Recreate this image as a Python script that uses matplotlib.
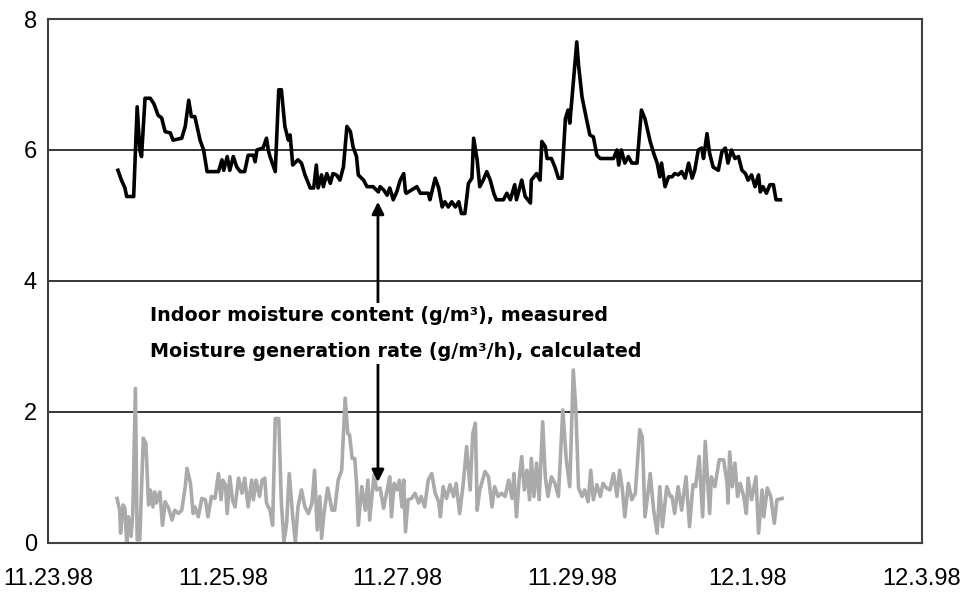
import matplotlib
matplotlib.use("Agg")
import matplotlib.pyplot as plt

# czas w dniach od 11.23.98
t_moist = [0.80, 0.84, 0.88, 0.90, 0.98, 1.02, 1.05, 1.07, 1.11, 1.17, 1.21, 1.26, 1.30, 1.34,
           1.40, 1.43, 1.53, 1.57, 1.61, 1.64, 1.68, 1.74, 1.78, 1.82, 1.95, 1.99, 2.01, 2.05,
           2.08, 2.12, 2.16, 2.20, 2.25, 2.29, 2.35, 2.37, 2.39, 2.46, 2.50, 2.52, 2.54, 2.60,
           2.64, 2.67, 2.71, 2.75, 2.77, 2.80, 2.86, 2.90, 2.94, 3.00, 3.04, 3.07, 3.09, 3.13,
           3.15, 3.19, 3.23, 3.26, 3.30, 3.34, 3.38, 3.42, 3.46, 3.49, 3.53, 3.55, 3.61, 3.65,
           3.72, 3.78, 3.80, 3.84, 3.88, 3.91, 3.95, 3.99, 4.03, 4.07, 4.09, 4.10, 4.22, 4.26,
           4.35, 4.37, 4.43, 4.47, 4.51, 4.54, 4.58, 4.62, 4.66, 4.70, 4.73, 4.77, 4.81, 4.85,
           4.87, 4.91, 4.94, 4.98, 5.02, 5.06, 5.10, 5.13, 5.21, 5.25, 5.29, 5.34, 5.36, 5.42,
           5.46, 5.52, 5.53, 5.59, 5.63, 5.65, 5.69, 5.71, 5.76, 5.80, 5.84, 5.88, 5.92, 5.95,
           5.97, 5.99, 6.05, 6.07, 6.11, 6.16, 6.20, 6.24, 6.28, 6.32, 6.47, 6.51, 6.53, 6.56,
           6.60, 6.64, 6.68, 6.74, 6.79, 6.83, 6.89, 6.93, 6.97, 7.00, 7.02, 7.06, 7.10, 7.14,
           7.17, 7.21, 7.25, 7.29, 7.33, 7.37, 7.40, 7.44, 7.48, 7.50, 7.54, 7.57, 7.61, 7.67,
           7.71, 7.75, 7.78, 7.82, 7.86, 7.90, 7.94, 7.98, 8.01, 8.05, 8.09, 8.13, 8.15, 8.18,
           8.22, 8.26, 8.30, 8.33, 8.38]
moisture = [5.69, 5.54, 5.42, 5.29, 5.29, 6.66, 6.00, 5.90, 6.79, 6.79, 6.71, 6.53, 6.49, 6.28,
            6.26, 6.15, 6.18, 6.36, 6.76, 6.51, 6.51, 6.15, 6.00, 5.67, 5.67, 5.85, 5.69, 5.90,
            5.69, 5.90, 5.74, 5.67, 5.67, 5.92, 5.92, 5.82, 6.00, 6.03, 6.18, 6.00, 5.90, 5.67,
            6.92, 6.92, 6.36, 6.15, 6.23, 5.77, 5.85, 5.80, 5.62, 5.42, 5.42, 5.77, 5.42, 5.62,
            5.44, 5.64, 5.49, 5.64, 5.62, 5.54, 5.74, 6.36, 6.28, 6.05, 5.90, 5.62, 5.54, 5.44,
            5.44, 5.36, 5.44, 5.39, 5.31, 5.42, 5.24, 5.36, 5.54, 5.64, 5.36, 5.34, 5.44, 5.34,
            5.34, 5.24, 5.57, 5.42, 5.13, 5.21, 5.13, 5.21, 5.13, 5.21, 5.03, 5.03, 5.49, 5.57,
            6.18, 5.85, 5.44, 5.54, 5.67, 5.54, 5.34, 5.24, 5.24, 5.34, 5.24, 5.47, 5.24, 5.54,
            5.29, 5.19, 5.54, 5.64, 5.54, 6.13, 6.05, 5.87, 5.87, 5.74, 5.57, 5.57, 6.48, 6.61,
            6.41, 6.71, 7.65, 7.30, 6.81, 6.48, 6.23, 6.20, 5.92, 5.87, 5.87, 6.00, 5.77, 6.00,
            5.80, 5.90, 5.80, 5.80, 6.61, 6.48, 6.13, 5.95, 5.80, 5.59, 5.80, 5.44, 5.59, 5.59,
            5.64, 5.62, 5.67, 5.57, 5.80, 5.57, 5.69, 6.00, 6.03, 5.87, 6.25, 5.95, 5.74, 5.69,
            5.97, 6.03, 5.80, 6.00, 5.87, 5.90, 5.69, 5.64, 5.54, 5.62, 5.44, 5.62, 5.36, 5.44,
            5.34, 5.47, 5.47, 5.24, 5.24]

t_gen = [0.79, 0.82, 0.83, 0.86, 0.88, 0.90, 0.92, 0.95, 0.97, 1.00, 1.02, 1.05, 1.09, 1.12,
         1.15, 1.17, 1.20, 1.22, 1.24, 1.28, 1.31, 1.34, 1.38, 1.42, 1.45, 1.49, 1.53, 1.57,
         1.59, 1.63, 1.66, 1.68, 1.72, 1.76, 1.80, 1.83, 1.87, 1.91, 1.95, 1.98, 2.00, 2.03,
         2.05, 2.08, 2.11, 2.14, 2.18, 2.22, 2.25, 2.29, 2.33, 2.35, 2.38, 2.42, 2.45, 2.48,
         2.50, 2.54, 2.57, 2.60, 2.64, 2.67, 2.70, 2.73, 2.76, 2.80, 2.83, 2.86, 2.90, 2.94,
         2.98, 3.02, 3.05, 3.08, 3.11, 3.13, 3.16, 3.20, 3.25, 3.28, 3.32, 3.36, 3.40, 3.43,
         3.45, 3.48, 3.51, 3.53, 3.55, 3.59, 3.63, 3.66, 3.68, 3.73, 3.76, 3.80, 3.84, 3.88,
         3.91, 3.93, 3.96, 3.99, 4.02, 4.05, 4.07, 4.09, 4.12, 4.16, 4.20, 4.24, 4.27, 4.31,
         4.35, 4.39, 4.43, 4.47, 4.49, 4.52, 4.56, 4.60, 4.64, 4.67, 4.71, 4.75, 4.79, 4.83,
         4.86, 4.89, 4.91, 4.94, 5.00, 5.04, 5.08, 5.11, 5.15, 5.19, 5.23, 5.27, 5.31, 5.33,
         5.36, 5.39, 5.42, 5.45, 5.48, 5.51, 5.53, 5.56, 5.59, 5.62, 5.66, 5.69, 5.72, 5.76,
         5.80, 5.84, 5.89, 5.93, 5.97, 6.01, 6.04, 6.07, 6.11, 6.14, 6.18, 6.21, 6.24, 6.28,
         6.32, 6.35, 6.39, 6.43, 6.47, 6.51, 6.54, 6.57, 6.60, 6.64, 6.68, 6.72, 6.77, 6.80,
         6.83, 6.86, 6.89, 6.93, 6.97, 7.00, 7.03, 7.08, 7.12, 7.14, 7.17, 7.21, 7.25, 7.30,
         7.34, 7.38, 7.41, 7.45, 7.49, 7.52, 7.54, 7.57, 7.59, 7.63, 7.68, 7.73, 7.77, 7.78,
         7.80, 7.83, 7.86, 7.89, 7.92, 7.96, 7.99, 8.01, 8.05, 8.10, 8.13, 8.17, 8.19, 8.23,
         8.27, 8.31, 8.34, 8.40]
generation = [0.68, 0.50, 0.15, 0.58, 0.53, 0.00, 0.40, 0.10, 0.45, 2.36, 0.05, 0.05, 1.60, 1.52,
              0.58, 0.81, 0.55, 0.78, 0.61, 0.78, 0.27, 0.63, 0.53, 0.35, 0.50, 0.45, 0.50, 0.86,
              1.14, 0.91, 0.45, 0.55, 0.40, 0.68, 0.66, 0.40, 0.71, 0.68, 1.06, 0.66, 0.96, 0.89,
              0.45, 1.01, 0.66, 0.55, 0.99, 0.76, 0.99, 0.55, 0.96, 0.66, 0.96, 0.71, 0.96, 0.99,
              0.61, 0.50, 0.27, 1.90, 1.90, 0.61, 0.02, 0.30, 1.06, 0.40, 0.02, 0.55, 0.81, 0.55,
              0.45, 0.61, 1.11, 0.20, 0.71, 0.07, 0.48, 0.84, 0.50, 0.50, 0.96, 1.11, 2.21, 1.67,
              1.65, 1.29, 1.29, 0.91, 0.27, 0.86, 0.50, 0.96, 0.35, 1.04, 0.81, 0.84, 0.53, 0.81,
              1.01, 0.40, 0.91, 0.81, 0.96, 0.55, 0.96, 0.17, 0.66, 0.68, 0.76, 0.61, 0.71, 0.55,
              0.96, 1.06, 0.76, 0.63, 0.40, 0.86, 0.68, 0.89, 0.71, 0.91, 0.45, 0.89, 1.47, 0.81,
              1.67, 1.83, 0.50, 0.81, 1.09, 1.01, 0.55, 0.86, 0.71, 0.76, 0.71, 0.96, 0.68, 1.06,
              0.40, 0.96, 1.32, 0.81, 1.11, 0.66, 1.29, 0.71, 1.22, 0.66, 1.85, 1.01, 0.71, 1.01,
              0.91, 0.71, 2.03, 1.27, 0.86, 2.64, 2.03, 0.84, 0.71, 0.81, 0.63, 1.11, 0.66, 0.89,
              0.71, 0.91, 0.84, 0.81, 1.06, 0.71, 1.11, 0.84, 0.40, 0.91, 0.66, 0.76, 1.73, 1.62,
              0.40, 0.71, 1.06, 0.50, 0.15, 0.86, 0.25, 0.86, 0.71, 0.71, 0.45, 0.86, 0.50, 1.01,
              0.25, 0.89, 0.86, 1.32, 0.40, 1.55, 1.11, 0.45, 1.01, 0.86, 1.27, 1.27, 0.91, 0.61,
              1.39, 0.86, 1.22, 0.71, 0.91, 0.71, 0.45, 0.99, 0.66, 1.01, 0.15, 0.81, 0.40, 0.84,
              0.71, 0.30, 0.66, 0.68]

x_ticks = [0, 2, 4, 6, 8, 10]
x_labels = ["11.23.98", "11.25.98", "11.27.98", "11.29.98", "12.1.98", "12.3.98"]
y_ticks = [0, 2, 4, 6, 8]

plt.rcParams['font.family'] = ['Liberation Sans', 'DejaVu Sans']

fig = plt.figure(figsize=(9.74, 5.94), dpi=100)
ax = fig.add_axes([0.0493, 0.0859, 0.8973, 0.8821])

for y in y_ticks[1:-1]:
    ax.axhline(y, color='black', lw=1.1, zorder=1)

ax.plot(t_gen, generation, color='#aaaaaa', lw=2.6, zorder=2)
ax.plot(t_moist, moisture, color='black', lw=2.6, zorder=3)

# strzałka między krzywymi
ax.annotate('', xy=(3.775, 0.93), xytext=(3.775, 5.21),
            arrowprops=dict(arrowstyle='<|-|>', color='black', lw=2,
                            mutation_scale=18, shrinkA=0, shrinkB=0), zorder=4)

ax.text(1.167, 3.2, "Indoor moisture content (g/m³), measured\n"
        "Moisture generation rate (g/m³/h), calculated",
        family='DejaVu Sans', fontsize=13.8, fontweight='bold', va='center', ha='left',
        linespacing=2.15, bbox=dict(facecolor='white', edgecolor='none', pad=2), zorder=5)

ax.set_xlim(0, 10)
ax.set_ylim(0, 8)
ax.set_xticks(x_ticks)
ax.set_xticklabels(x_labels)
ax.set_yticks(y_ticks)
ax.tick_params(axis='both', length=0, labelsize=17)
ax.tick_params(axis='x', pad=18)
ax.tick_params(axis='y', pad=8)
for s in ax.spines.values():
    s.set_color('#404040')
    s.set_linewidth(1.5)

fig.savefig("out.png", dpi=100)
